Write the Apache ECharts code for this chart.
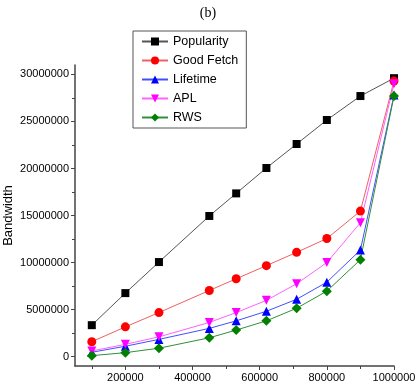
<!DOCTYPE html>
<html><head><meta charset="utf-8">
<script src="https://cdn.jsdelivr.net/npm/echarts@6/dist/echarts.min.js"></script>
<style>html,body{margin:0;padding:0;background:#fff}#c{width:416px;height:387px}</style>
</head><body><div id="c"></div>
<script>
const xValues = [100000, 200000, 300000, 450000, 530000, 620000, 710000, 800000, 900000, 1000000];
const popularity = [3340000, 6750000, 10050000, 14950000, 17350000, 20050000, 22600000, 25150000, 27700000, 29600000];
const goodFetch = [1580000, 3160000, 4680000, 7030000, 8270000, 9670000, 11080000, 12550000, 15470000, 29300000];
const lifetime = [460000, 1100000, 1830000, 3000000, 3800000, 4820000, 6090000, 7910000, 11330000, 27800000];
const apl = [600000, 1300000, 2100000, 3630000, 4680000, 5980000, 7740000, 10000000, 14240000, 29000000];
const rws = [100000, 420000, 890000, 2000000, 2820000, 3800000, 5140000, 6960000, 10300000, 27700000];
const xMajorTicks = [200000, 400000, 600000, 800000, 1000000];
const xMinorTicks = [100000, 300000, 500000, 700000, 900000];
const yMajorTicks = [0, 5000000, 10000000, 15000000, 20000000, 25000000, 30000000];
const yMinorTicks = [2500000, 7500000, 12500000, 17500000, 22500000, 27500000];

const seriesDefs = [
  {name: 'Popularity', data: popularity, color: '#000000', line: '#555555', symbol: 'rect', size: 8, rot: 0},
  {name: 'Good Fetch', data: goodFetch, color: '#ff0000', line: '#f06060', symbol: 'circle', size: 9, rot: 0},
  {name: 'Lifetime', data: lifetime, color: '#0000ff', line: '#4050ff', symbol: 'triangle', size: 9, rot: 0},
  {name: 'APL', data: apl, color: '#ff00ff', line: '#ff60ff', symbol: 'triangle', size: 9, rot: 180},
  {name: 'RWS', data: rws, color: '#008000', line: '#30903a', symbol: 'diamond', size: 10, rot: 0}
];

const font = 'Liberation Sans, Arial, sans-serif';
const X0 = 50000, X1 = 1000000, Y0 = -1000000, Y1 = 31000000;
const plain = v => String(v);

const chart = echarts.init(document.getElementById('c'), null, {renderer: 'canvas'});
chart.setOption({
  animation: false,
  backgroundColor: '#ffffff',
  title: {text: '(b)', left: 'center', top: 1,
    textStyle: {fontFamily: 'Liberation Serif, Times New Roman, serif', fontWeight: 'normal', fontSize: 14, color: '#000'}},
  grid: {left: 75, right: 22, top: 65, bottom: 21, containLabel: false, outerBoundsMode: 'none'},
  legend: {
    orient: 'vertical', left: 133, top: 31,
    itemWidth: 26, itemHeight: 10, itemGap: 6,
    padding: [4, 8, 4, 8],
    borderColor: '#555', borderWidth: 1,
    textStyle: {fontFamily: font, fontSize: 12.5, color: '#000'},
    data: seriesDefs.map(s => s.name)
  },
  xAxis: [
    {type: 'value', min: X0, max: X1, position: 'bottom',
      axisLine: {show: true, onZero: false, lineStyle: {color: '#444', width: 1.5}},
      axisTick: {show: true, customValues: xMajorTicks, length: 4, lineStyle: {color: '#444'}},
      axisLabel: {customValues: xMajorTicks, formatter: plain, fontFamily: font, fontSize: 11, color: '#000', margin: 6},
      splitLine: {show: false}},
    {type: 'value', min: X0, max: X1, position: 'bottom', offset: 0,
      axisLine: {show: false, onZero: false},
      axisTick: {show: true, customValues: xMinorTicks, length: 3, lineStyle: {color: '#444'}},
      axisLabel: {show: false, customValues: xMinorTicks},
      splitLine: {show: false}}
  ],
  yAxis: [
    {type: 'value', min: Y0, max: Y1, position: 'left', name: 'Bandwidth', nameLocation: 'middle', nameGap: 60,
      nameMoveOverlap: false,
      nameTextStyle: {fontFamily: font, fontSize: 13, color: '#000'},
      axisLine: {show: true, onZero: false, lineStyle: {color: '#444', width: 1.5}},
      axisTick: {show: true, customValues: yMajorTicks, length: 4, lineStyle: {color: '#444'}},
      axisLabel: {customValues: yMajorTicks, formatter: plain, fontFamily: font, fontSize: 11, color: '#000', margin: 6},
      splitLine: {show: false}},
    {type: 'value', min: Y0, max: Y1, position: 'left', offset: 0,
      axisLine: {show: false, onZero: false},
      axisTick: {show: true, customValues: yMinorTicks, length: 3, lineStyle: {color: '#444'}},
      axisLabel: {show: false, customValues: yMinorTicks},
      splitLine: {show: false}}
  ],
  series: seriesDefs.map(s => ({
    name: s.name, type: 'line', xAxisIndex: 0, yAxisIndex: 0,
    data: xValues.map((x, i) => [x, s.data[i]]),
    symbol: s.symbol, symbolSize: s.size, symbolRotate: s.rot,
    showSymbol: true,
    itemStyle: {color: s.color},
    lineStyle: {color: s.line, width: 1}
  }))
});
</script></body></html>
